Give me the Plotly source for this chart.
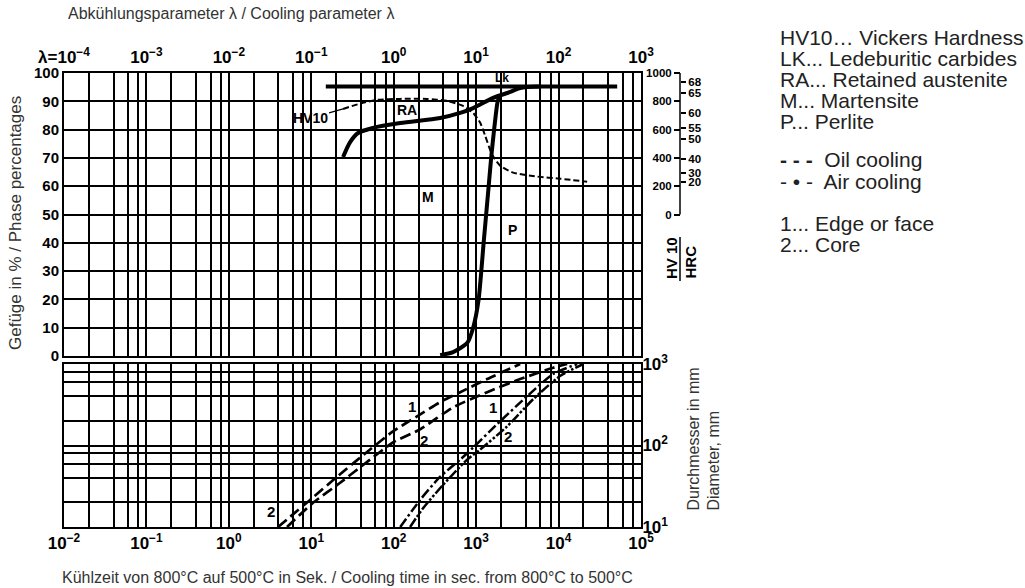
import math
import plotly.graph_objects as go

# ---------------- data ----------------
# Top panel: phase percentages (%) vs cooling time t8/5 (s)
lk_t = [15, 51400]
lk_pct = [95.2, 95.2]

ra_t = [24.3, 29.6, 37, 56, 120, 366, 640, 920, 1607, 2590, 3420, 5980]
ra_pct = [70.3, 75.6, 78.8, 80.6, 82.3, 84.1, 85.9, 87.6, 91.2, 93.3, 94.7, 95.2]

p_t = [366, 526, 778, 920, 1072, 1233, 1419, 1521, 1652, 1800, 1900]
p_pct = [0.3, 1.4, 4.6, 10, 20, 40, 60, 70, 80, 89, 92]

# Vickers hardness HV10 vs cooling time
hv_t = [24.3, 41.4, 63, 120, 254, 445, 695, 920, 1120, 1288, 1563, 1955, 2810, 5500, 10400, 22200]
hv_val = [746, 788, 810, 817, 817, 803, 767, 718, 648, 556, 422, 345, 296, 268, 253, 232]

# Bottom panel: diameter (mm) vs cooling time (s)
oil1_t = [3.95, 9.67, 20.6, 51.7, 98, 192, 366, 640, 1360, 3420]
oil1_d = [10, 21.5, 41.4, 89.3, 149, 228, 340, 451, 653, 1000]
oil2_t = [5.08, 10.5, 22.4, 51.7, 98, 209, 526, 1360, 3420, 8600, 12700]
oil2_d = [10, 19.8, 34.9, 67.1, 109, 158, 294, 451, 653, 900, 1000]
air1_t = [120, 209, 366, 640, 920, 1955, 4160, 8600, 16800]
air1_d = [10, 21.5, 41.4, 67.1, 94.4, 198, 403, 753, 1000]
air2_t = [158, 227, 398, 778, 1120, 2380, 4920, 10400, 19900]
air2_d = [10, 17.0, 33, 67.1, 89.3, 172, 370, 711, 1000]

# tick labels / scales
pct_ticks = [0, 10, 20, 30, 40, 50, 60, 70, 80, 90, 100]
t_decades = [1e-2, 1e-1, 1e0, 1e1, 1e2, 1e3, 1e4, 1e5]
t_labels = ["10<sup>−2</sup>", "10<sup>−1</sup>", "10<sup>0</sup>", "10<sup>1</sup>",
            "10<sup>2</sup>", "10<sup>3</sup>", "10<sup>4</sup>", "10<sup>5</sup>"]
lam_decades = [1e-4, 1e-3, 1e-2, 1e-1, 1e0, 1e1, 1e2, 1e3]
lam_labels = ["λ=10<sup>−4</sup>", "10<sup>−3</sup>", "10<sup>−2</sup>", "10<sup>−1</sup>",
              "10<sup>0</sup>", "10<sup>1</sup>", "10<sup>2</sup>", "10<sup>3</sup>"]
hv_ticks = [0, 200, 400, 600, 800, 1000]
hrc_labels = ["68", "65", "60", "55", "50", "40", "30", "20"]
hrc_at_hv = [936, 859, 718, 612, 535, 394, 296, 232]
d_decades = [10, 100, 1000]
d_labels = ["10<sup>1</sup>", "10<sup>2</sup>", "10<sup>3</sup>"]
d_minor = [20, 40, 60, 80, 200, 400, 600, 800]
t_minor = [m * 10.0 ** k for k in range(-2, 5) for m in (2, 4, 6, 8)]

# ---------------- figure ----------------
W, H = 1025, 588
ML, MR, MT, MB = 64, 325, 73, 61
PW, PH = W - ML - MR, H - MT - MB


def px(xp):
    return (xp - ML) / PW


def py(yp):
    return (H - MB - yp) / PH


lg = math.log10

XD = [0, px(641)]
TOP_D = [py(356), 1]
BOT_D = [0, py(364)]
AX_POS = px(680)

BOLD = "Liberation Sans"
NARROW = "Liberation Sans Narrow, Arial Narrow, Liberation Sans"

fig = go.Figure()
thick = dict(color="black", width=4)
fig.add_trace(go.Scatter(x=lk_t, y=lk_pct, mode="lines", line=thick, xaxis="x", yaxis="y", hoverinfo="skip"))
fig.add_trace(go.Scatter(x=ra_t, y=ra_pct, mode="lines", line=dict(thick, shape="spline", smoothing=0.8),
                         xaxis="x", yaxis="y", hoverinfo="skip"))
fig.add_trace(go.Scatter(x=p_t, y=p_pct, mode="lines", line=dict(thick, shape="spline", smoothing=0.6),
                         xaxis="x", yaxis="y", hoverinfo="skip"))
fig.add_trace(go.Scatter(x=hv_t, y=hv_val, mode="lines",
                         line=dict(color="black", width=2, dash="6px,3px", shape="spline", smoothing=0.6),
                         xaxis="x", yaxis="y2", hoverinfo="skip"))
# invisible anchors so that the auxiliary axes are drawn
fig.add_trace(go.Scatter(x=[lam_decades[0]], y=[None], xaxis="x3", yaxis="y", hoverinfo="skip", mode="markers"))
fig.add_trace(go.Scatter(x=[hv_t[0]], y=[None], xaxis="x", yaxis="y3", hoverinfo="skip", mode="markers"))

oil_line = dict(color="black", width=2.7, dash="11px,5px", shape="spline", smoothing=0.6)
fig.add_trace(go.Scatter(x=oil1_t, y=oil1_d, mode="lines", line=oil_line, xaxis="x2", yaxis="y4", hoverinfo="skip"))
fig.add_trace(go.Scatter(x=oil2_t, y=oil2_d, mode="lines", line=oil_line, xaxis="x2", yaxis="y4", hoverinfo="skip"))
fig.add_trace(go.Scatter(x=air1_t, y=air1_d, mode="lines",
                         line=dict(color="black", width=2.5, dash="10px,3px,2.5px,3px", shape="spline", smoothing=0.6),
                         xaxis="x2", yaxis="y4", hoverinfo="skip"))
fig.add_trace(go.Scatter(x=air2_t, y=air2_d, mode="lines",
                         line=dict(color="black", width=2.5, dash="10px,2px,2.5px,2px,2.5px,2px", shape="spline",
                                   smoothing=0.6),
                         xaxis="x2", yaxis="y4", hoverinfo="skip"))

GW = 1.7
grid_style = dict(showgrid=True, gridcolor="black", gridwidth=GW, zeroline=False, automargin=False,
                  showline=True, linecolor="black", linewidth=2, mirror=True, ticks="")
minor_t = dict(tickmode="array", tickvals=t_minor, showgrid=True, gridcolor="black", gridwidth=GW, ticks="")
tickfont_big = dict(family=BOLD, size=17, color="black", weight="bold")

fig.update_layout(
    width=W, height=H, margin=dict(l=ML, r=MR, t=MT, b=MB, autoexpand=False),
    paper_bgcolor="white", plot_bgcolor="white", showlegend=False,
    xaxis=dict(type="log", range=[-2, 5], domain=XD, anchor="y", tickmode="array", tickvals=t_decades,
               showticklabels=False, minor=minor_t, **grid_style),
    yaxis=dict(domain=TOP_D, range=[0, 100], anchor="x", tickmode="array", tickvals=pct_ticks,
               tickfont=dict(family=BOLD, size=15, color="black", weight="bold"), **grid_style),
    xaxis3=dict(type="log", range=[-4, 3], overlaying="x", side="top", anchor="y", tickmode="array",
                tickvals=lam_decades, ticktext=lam_labels, showgrid=False, showline=False,
                ticks="outside", ticklen=2, tickcolor="rgba(0,0,0,0)", automargin=False,
                zeroline=False, tickfont=tickfont_big),
    yaxis2=dict(overlaying="y", anchor="free", position=AX_POS, side="left", range=[-1000, 1000],
                tickmode="array", tickvals=hv_ticks, ticks="outside", ticklen=6, tickwidth=1.5,
                tickcolor="black", showgrid=False, showline=False, zeroline=False, automargin=False,
                tickfont=dict(family=BOLD, size=11.5, color="black", weight="bold")),
    yaxis3=dict(overlaying="y", anchor="free", position=AX_POS, side="right", range=[-1000, 1000],
                tickmode="array", tickvals=hrc_at_hv, ticktext=hrc_labels, ticks="outside", ticklen=5,
                tickwidth=1.5, tickcolor="black", showgrid=False, showline=False, zeroline=False,
                automargin=False, tickfont=dict(family=BOLD, size=11.5, color="black", weight="bold")),
    xaxis2=dict(type="log", range=[-2, 5], domain=XD, anchor="y4", tickmode="array", tickvals=t_decades,
                ticktext=t_labels, tickfont=tickfont_big, minor=minor_t, **grid_style),
    yaxis4=dict(type="log", range=[1, 3], domain=BOT_D, anchor="x2", side="right", tickmode="array",
                tickvals=d_decades, ticktext=d_labels, tickfont=tickfont_big, ticklabelstandoff=-4,
                minor=dict(tickmode="array", tickvals=d_minor, showgrid=True, gridcolor="black",
                           gridwidth=GW, ticks=""), **grid_style),
)

shapes = [
    dict(type="line", xref="paper", yref="y2", x0=AX_POS, x1=AX_POS, y0=0, y1=1000,
         line=dict(color="black", width=1.5)),
    dict(type="line", xref="paper", yref="paper", x0=AX_POS, x1=AX_POS, y0=py(281), y1=py(237),
         line=dict(color="black", width=1.5)),
]
fig.update_layout(shapes=shapes)

title_font = dict(family="Liberation Sans", size=16, color="#333333")
ann = []
ann.append(dict(text="Abkühlungsparameter λ / Cooling parameter λ", xref="paper", yref="paper",
                x=px(66), y=py(13), xanchor="left", yanchor="middle", showarrow=False, font=title_font))
ann.append(dict(text="Gefüge in % / Phase percentages", xref="paper", yref="paper",
                x=px(15), y=py(223), xanchor="center", yanchor="middle", textangle=-90,
                showarrow=False, font=dict(title_font, size=17)))
ann.append(dict(text="Kühlzeit von 800°C auf 500°C in Sek. / Cooling time in sec. from 800°C to 500°C",
                xref="paper", yref="paper", x=px(347), y=py(577), xanchor="center", yanchor="middle",
                showarrow=False, font=dict(title_font, size=16)))
ann.append(dict(text="Durchmesser in mm<br>Diameter, mm", xref="paper", yref="paper",
                x=px(703), y=py(513), xanchor="center", yanchor="bottom", textangle=-90, align="left",
                showarrow=False, font=dict(title_font, size=16)))
ann.append(dict(text="HV 10", xref="paper", yref="paper", x=px(671), y=py(281), xanchor="center",
                yanchor="bottom", textangle=-90, showarrow=False,
                font=dict(family=BOLD, size=15, color="black", weight="bold")))
ann.append(dict(text="HRC", xref="paper", yref="paper", x=px(690), y=py(281), xanchor="center",
                yanchor="bottom", textangle=-90, showarrow=False,
                font=dict(family=BOLD, size=15, color="black", weight="bold")))

lab_font = dict(family=NARROW, size=14, color="black", weight="bold")
ann.append(dict(text="Lk", x=lg(2070), y=98.2, xref="x", yref="y", showarrow=False, font=dict(lab_font, size=12)))
ann.append(dict(text="RA", x=lg(146), y=86.9, xref="x", yref="y", showarrow=False, font=lab_font))
ann.append(dict(text="M", x=lg(261), y=56.2, xref="x", yref="y", showarrow=False, font=lab_font))
ann.append(dict(text="P", x=lg(2735), y=44.5, xref="x", yref="y", showarrow=False, font=lab_font))
ann.append(dict(text="HV10", x=lg(hv_t[0]), y=hv_val[0], xref="x", yref="y2", showarrow=True, arrowhead=0,
                arrowwidth=1.3, arrowcolor="black", ax=-33, ay=9, font=lab_font))
for txt, tx, dy in [("1", 167, 303), ("2", 234, 115), ("1", 1607, 294), ("2", 2443, 129), ("2", 3.25, 15.3)]:
    ann.append(dict(text=txt, x=lg(tx), y=lg(dy), xref="x2", yref="y4", showarrow=False,
                    font=dict(lab_font, size=15)))

leg_font = dict(family="Liberation Sans", size=21, color="#222222")
legend_lines = [
    ("HV10… Vickers Hardness", 37), ("LK... Ledeburitic carbides", 58), ("RA... Retained austenite", 79),
    ("M... Martensite", 100), ("P... Perlite", 121), ("<b>- - -</b>  Oil cooling", 159),
    ("- • -  Air cooling", 181), ("1... Edge or face", 223), ("2... Core", 244),
]
for txt, yp in legend_lines:
    ann.append(dict(text=txt, xref="paper", yref="paper", x=px(778), y=py(yp), xanchor="left",
                    yanchor="middle", showarrow=False, font=leg_font))
fig.update_layout(annotations=ann)

fig.write_html("out.html", config={"displayModeBar": False},
               post_script="document.body.style.margin='0px';")
